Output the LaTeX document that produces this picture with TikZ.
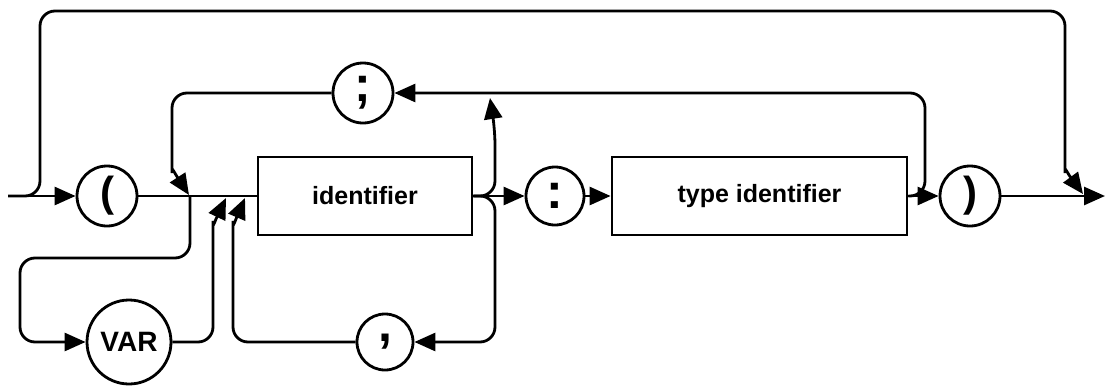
\documentclass[tikz,border=0pt]{standalone}
\usepackage{fontspec}
\setmainfont{Liberation Sans}
\usetikzlibrary{arrows.meta}

\begin{document}
\begin{tikzpicture}
[
    x=1pt, y=-1pt,
    line width=2.8pt,
    >={Triangle[length=21pt,width=18pt]},
    term/.style={shape=circle, draw, inner sep=0pt, minimum size=60pt, font=\fontsize{42}{42}\selectfont\bfseries},
    punct/.style={term, font=\fontsize{50}{50}\selectfont\bfseries},
    word/.style={shape=circle, draw, inner sep=0pt, minimum size=84pt, font=\fontsize{28}{28}\selectfont\bfseries},
    nonterm/.style={shape=rectangle, draw, inner sep=0pt, minimum height=78pt, font=\fontsize{25}{25}\selectfont\bfseries},
    track/.style={rounded corners=15pt},
]
\useasboundingbox (0,0) rectangle (1106,386);
\node[term] (lparen) at (107,196) {(};
\node[nonterm, minimum width=214pt] (ident) at (365,196) {identifier};
\node[punct, minimum size=58pt] (colon) at (555,196) {:};
\node[nonterm, minimum width=295pt] (typeid) at (759.5,196) {type identifier};
\node[term] (rparen) at (970,196) {)};
\node[punct] (semi) at (363,93) {;};
\node[word] (var) at (129,342) {VAR};
\node[punct, minimum size=56pt] (comma) at (385,342) {,};
\coordinate (entry) at (8,196);
\coordinate (exit) at (1105,196);
\coordinate (split) at (190,196);

\draw[->] (entry) -- (lparen);
\draw (lparen) -- (ident);
\draw[->] (ident) -- (colon);
\draw[->] (colon) -- (typeid);
\draw[->] (typeid) -- (rparen);
\draw[->] (rparen) -- (exit);

\draw[->, track] (entry) -- (40,196) -- (40,11) -- (1065,11) -- (1065,158) [sharp corners]
    .. controls (1065,167) and (1066,170) .. (1069,175) -- (1083,194);
\draw[->, track] (typeid) -- (925,196) -- (925,93) -- (semi);
\draw[->, track] (semi) -- (172,93) -- (172,158) [sharp corners]
    .. controls (172,167) and (173,170) .. (176,175) -- (189,195);
\draw[->, track] (ident) -- (495,196) -- (495,130) [sharp corners] -- (490,98);
\draw[->, track] (ident) -- (495,196) -- (495,342) -- (comma);
\draw[->, track] (comma) -- (233,342) -- (233,236) [sharp corners]
    .. controls (233,227) and (234,224) .. (236,219) -- (245,198);
\draw[->, track] (split) -- (190,258) -- (20,258) -- (20,342) -- (var);
\draw[->, track] (var) -- (213,342) -- (213,236) [sharp corners]
    .. controls (213,227) and (214,224) .. (216,219) -- (226,198);
\end{tikzpicture}
\end{document}
